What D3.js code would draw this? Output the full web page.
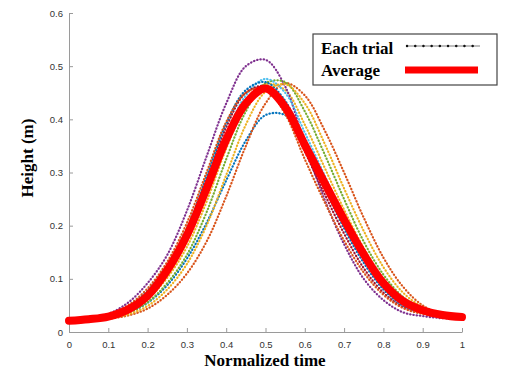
<!DOCTYPE html>
<html>
<head>
<meta charset="utf-8">
<script src="https://cdn.jsdelivr.net/npm/d3@7.9.0/dist/d3.min.js"></script>
<style>
  body { margin: 0; background: #fff; }
  svg { display: block; }
</style>
</head>
<body>
<svg id="chart"></svg>
<script>
// normalized time samples (every 0.05)
const timePoints = [0, 0.05, 0.1, 0.15, 0.2, 0.25, 0.3, 0.35, 0.4, 0.45, 0.5,
  0.55, 0.6, 0.65, 0.7, 0.75, 0.8, 0.85, 0.9, 0.95, 1];

// height (m) of each trial
const trial1 = [0.021, 0.023, 0.027, 0.036, 0.055, 0.088, 0.138, 0.205, 0.285, 0.360, 0.408,
  0.408, 0.360, 0.285, 0.210, 0.145, 0.094, 0.060, 0.043, 0.033, 0.028];
const trial2 = [0.020, 0.022, 0.025, 0.031, 0.044, 0.070, 0.110, 0.170, 0.255, 0.350, 0.430,
  0.468, 0.445, 0.380, 0.300, 0.215, 0.140, 0.085, 0.050, 0.034, 0.028];
const trial3 = [0.021, 0.023, 0.028, 0.039, 0.062, 0.102, 0.160, 0.245, 0.345, 0.425, 0.466,
  0.455, 0.390, 0.310, 0.230, 0.158, 0.100, 0.062, 0.043, 0.033, 0.028];
const trial4 = [0.020, 0.024, 0.034, 0.055, 0.092, 0.145, 0.228, 0.330, 0.430, 0.500, 0.512,
  0.462, 0.352, 0.250, 0.165, 0.100, 0.060, 0.037, 0.030, 0.026, 0.025];
const trial5 = [0.021, 0.023, 0.027, 0.036, 0.056, 0.092, 0.145, 0.225, 0.325, 0.415, 0.468,
  0.470, 0.415, 0.335, 0.250, 0.170, 0.108, 0.066, 0.044, 0.033, 0.029];
const trial6 = [0.021, 0.024, 0.030, 0.044, 0.070, 0.115, 0.178, 0.270, 0.370, 0.445, 0.476,
  0.450, 0.375, 0.295, 0.215, 0.145, 0.092, 0.058, 0.041, 0.032, 0.028];
const trial7 = [0.021, 0.024, 0.031, 0.047, 0.076, 0.122, 0.188, 0.285, 0.385, 0.450, 0.462,
  0.420, 0.340, 0.260, 0.185, 0.120, 0.074, 0.047, 0.035, 0.029, 0.026];
const trial8 = [0.021, 0.025, 0.032, 0.048, 0.078, 0.126, 0.195, 0.292, 0.392, 0.455, 0.470,
  0.435, 0.355, 0.272, 0.195, 0.130, 0.080, 0.050, 0.037, 0.030, 0.027];
const trial9 = [0.021, 0.025, 0.033, 0.050, 0.082, 0.132, 0.205, 0.300, 0.395, 0.450, 0.458,
  0.410, 0.325, 0.245, 0.172, 0.112, 0.070, 0.045, 0.034, 0.029, 0.026];
const trial10 = [0.020, 0.022, 0.026, 0.033, 0.049, 0.080, 0.128, 0.200, 0.295, 0.390, 0.452,
  0.466, 0.430, 0.355, 0.270, 0.190, 0.122, 0.074, 0.047, 0.034, 0.029];

const average = [0.021, 0.024, 0.029, 0.042, 0.068, 0.116, 0.182, 0.270, 0.362, 0.430, 0.458,
  0.423, 0.352, 0.281, 0.211, 0.146, 0.092, 0.058, 0.041, 0.032, 0.028];

const trials = [trial1, trial2, trial3, trial4, trial5, trial6, trial7, trial8, trial9, trial10];

const xTicks = [0, 0.1, 0.2, 0.3, 0.4, 0.5, 0.6, 0.7, 0.8, 0.9, 1];
const yTicks = [0, 0.1, 0.2, 0.3, 0.4, 0.5, 0.6];
const legendLabels = ["Each trial", "Average"];

// matlab default line colours, cycled
const trialColors = ["#0072BD", "#D95319", "#EDB120", "#7E2F8E", "#77AC30", "#4DBEEE", "#A2142F"];

const width = 511, height = 374;
const svg = d3.select("#chart").attr("width", width).attr("height", height);

const x = d3.scaleLinear().domain([0, 1]).range([69, 462]);
const y = d3.scaleLinear().domain([0, 0.6]).range([332, 13]);

const fmt = d => d === 0 || d === 1 ? String(d) : d3.format(".1f")(d);

// axes (inward ticks, no box)
const xAxis = svg.append("g")
  .attr("transform", `translate(0,${y(0)})`)
  .call(d3.axisBottom(x).tickValues(xTicks).tickFormat(fmt).tickSize(-4).tickSizeOuter(0).tickPadding(9));
const yAxis = svg.append("g")
  .attr("transform", `translate(${x(0)},0)`)
  .call(d3.axisLeft(y).tickValues(yTicks).tickFormat(fmt).tickSize(-4).tickSizeOuter(0).tickPadding(6));

[xAxis, yAxis].forEach(g => {
  g.select(".domain").attr("stroke", "#9a9a9a");
  g.selectAll(".tick line").attr("stroke", "#9a9a9a");
  g.selectAll(".tick text")
    .attr("fill", "#333")
    .style("font-family", "'Liberation Sans', Arial, sans-serif")
    .style("font-size", "9.5px");
});

const line = d3.line()
  .x((d, i) => x(timePoints[i]))
  .y(d => y(d))
  .curve(d3.curveCatmullRom.alpha(0.5));

// each trial: thin line with dense dot markers
const trialG = svg.append("g");
trials.forEach((vals, i) => {
  const c = trialColors[i % trialColors.length];
  trialG.append("path")
    .attr("d", line(vals))
    .attr("fill", "none")
    .attr("stroke", c)
    .attr("stroke-width", 0.6)
    .attr("stroke-opacity", 0.6);
  trialG.append("path")
    .attr("d", line(vals))
    .attr("fill", "none")
    .attr("stroke", c)
    .attr("stroke-width", 2.3)
    .attr("stroke-linecap", "round")
    .attr("stroke-dasharray", "0.1 3.2");
});

// average
svg.append("path")
  .attr("d", line(average))
  .attr("fill", "none")
  .attr("stroke", "#ff0000")
  .attr("stroke-width", 8)
  .attr("stroke-linecap", "round")
  .attr("stroke-linejoin", "round");

// axis titles
svg.append("text")
  .attr("x", 265).attr("y", 366)
  .attr("text-anchor", "middle")
  .style("font-family", "'Liberation Serif', 'Times New Roman', serif")
  .style("font-weight", "bold")
  .style("font-size", "17px")
  .text("Normalized time");

svg.append("text")
  .attr("transform", "translate(33,158) rotate(-90)")
  .attr("text-anchor", "middle")
  .style("font-family", "'Liberation Serif', 'Times New Roman', serif")
  .style("font-weight", "bold")
  .style("font-size", "17px")
  .text("Height (m)");

// legend
const legend = svg.append("g");
legend.append("rect")
  .attr("x", 313).attr("y", 34).attr("width", 184).attr("height", 51)
  .attr("fill", "#fff").attr("stroke", "#444").attr("stroke-width", 1.2);

legend.selectAll("text.lab")
  .data(legendLabels)
  .enter().append("text")
  .attr("class", "lab")
  .attr("x", 321)
  .attr("y", (d, i) => 54 + i * 22)
  .style("font-family", "'Liberation Serif', 'Times New Roman', serif")
  .style("font-weight", "bold")
  .style("font-size", "17px")
  .attr("fill", "#000")
  .text(d => d);

legend.append("line")
  .attr("x1", 407).attr("x2", 480).attr("y1", 46).attr("y2", 46)
  .attr("stroke", "#222").attr("stroke-width", 0.6);
legend.append("line")
  .attr("x1", 407).attr("x2", 480).attr("y1", 46).attr("y2", 46)
  .attr("stroke", "#111").attr("stroke-width", 2.4)
  .attr("stroke-linecap", "round").attr("stroke-dasharray", "0.1 8.1");

legend.append("line")
  .attr("x1", 405).attr("x2", 478).attr("y1", 70).attr("y2", 70)
  .attr("stroke", "#ff0000").attr("stroke-width", 7);
</script>
</body>
</html>
